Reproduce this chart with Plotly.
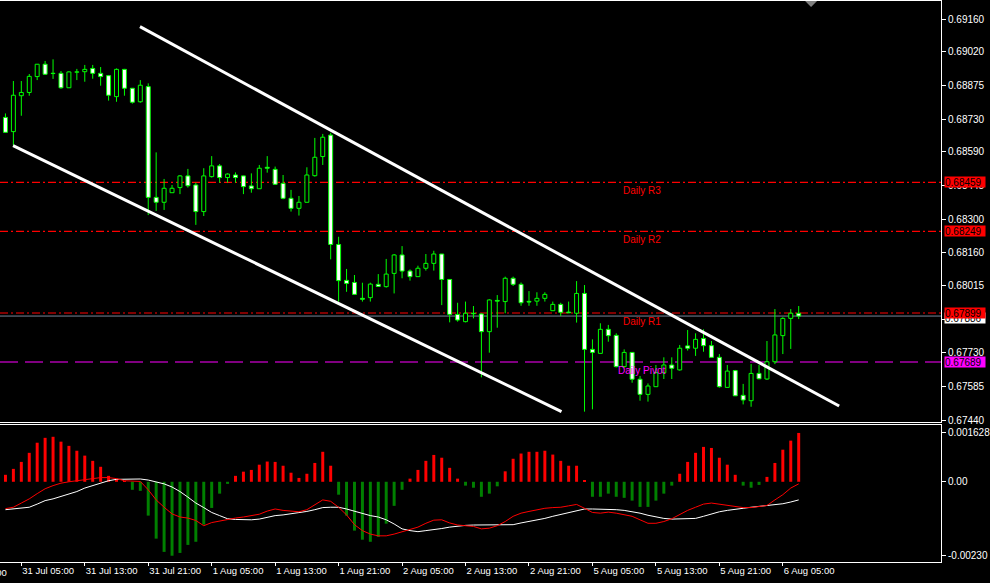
import plotly.graph_objects as go

# ---------------- data (AUDUSD H1) ----------------
open_ = [0.68738, 0.68677, 0.68831, 0.68845, 0.68913, 0.68966, 0.68927, 0.68927, 0.68865, 0.68932,
         0.68934, 0.68948, 0.68927, 0.68917, 0.68827, 0.68944, 0.68863, 0.68805, 0.68870, 0.68395,
         0.68374, 0.68415, 0.68437, 0.68487, 0.68448, 0.68334, 0.68484, 0.68530, 0.68480, 0.68491,
         0.68487, 0.68444, 0.68432, 0.68524, 0.68515, 0.68455, 0.68391, 0.68348, 0.68374, 0.68488,
         0.68570, 0.68662, 0.68193, 0.68039, 0.68030, 0.67962, 0.67965, 0.68022, 0.68012, 0.68069,
         0.68148, 0.68079, 0.68055, 0.68091, 0.68112, 0.68152, 0.68043, 0.67893, 0.67862, 0.67898,
         0.67895, 0.67819, 0.67953, 0.67948, 0.68048, 0.68022, 0.67949, 0.67950, 0.67962, 0.67909,
         0.67936, 0.67903, 0.67898, 0.67983, 0.67743, 0.67726, 0.67829, 0.67803, 0.67669, 0.67730,
         0.67615, 0.67550, 0.67583, 0.67643, 0.67676, 0.67655, 0.67758, 0.67748, 0.67790, 0.67759,
         0.67709, 0.67580, 0.67652, 0.67546, 0.67523, 0.67640, 0.67616, 0.67690, 0.67802, 0.67876,
         0.67898]
high = [0.68755, 0.68894, 0.68894, 0.68924, 0.68967, 0.68980, 0.68987, 0.68937, 0.68936, 0.68946,
        0.68963, 0.68963, 0.68954, 0.68920, 0.68948, 0.68946, 0.68863, 0.68898, 0.68884, 0.68588,
        0.68474, 0.68448, 0.68491, 0.68517, 0.68458, 0.68520, 0.68572, 0.68538, 0.68498, 0.68502,
        0.68488, 0.68498, 0.68534, 0.68572, 0.68527, 0.68491, 0.68427, 0.68401, 0.68524, 0.68650,
        0.68667, 0.68672, 0.68226, 0.68088, 0.68062, 0.68029, 0.68029, 0.68066, 0.68131, 0.68152,
        0.68186, 0.68086, 0.68102, 0.68152, 0.68166, 0.68152, 0.68043, 0.67943, 0.67948, 0.67929,
        0.67898, 0.67958, 0.67976, 0.68055, 0.68055, 0.68030, 0.67993, 0.67988, 0.67988, 0.67948,
        0.67943, 0.67948, 0.68036, 0.68019, 0.67786, 0.67855, 0.67848, 0.67812, 0.67743, 0.67730,
        0.67629, 0.67597, 0.67676, 0.67709, 0.67709, 0.67762, 0.67826, 0.67812, 0.67829, 0.67779,
        0.67723, 0.67676, 0.67655, 0.67595, 0.67680, 0.67676, 0.67779, 0.67916, 0.67881, 0.67916,
        0.67929]
low = [0.68674, 0.68617, 0.68745, 0.68831, 0.68898, 0.68920, 0.68903, 0.68861, 0.68865, 0.68898,
       0.68891, 0.68904, 0.68874, 0.68810, 0.68805, 0.68831, 0.68797, 0.68801, 0.68319, 0.68337,
       0.68341, 0.68415, 0.68409, 0.68437, 0.68277, 0.68315, 0.68480, 0.68458, 0.68458, 0.68458,
       0.68409, 0.68415, 0.68432, 0.68501, 0.68448, 0.68387, 0.68334, 0.68317, 0.68374, 0.68484,
       0.68534, 0.68129, 0.67948, 0.67990, 0.67979, 0.67948, 0.67948, 0.68013, 0.68008, 0.67983,
       0.68048, 0.68038, 0.68055, 0.68081, 0.68081, 0.67933, 0.67859, 0.67862, 0.67859, 0.67876,
       0.67623, 0.67729, 0.67836, 0.67898, 0.68015, 0.67930, 0.67930, 0.67930, 0.67948, 0.67909,
       0.67886, 0.67898, 0.67858, 0.67476, 0.67486, 0.67726, 0.67776, 0.67666, 0.67666, 0.67600,
       0.67523, 0.67519, 0.67583, 0.67616, 0.67616, 0.67652, 0.67738, 0.67715, 0.67733, 0.67709,
       0.67579, 0.67580, 0.67544, 0.67507, 0.67497, 0.67615, 0.67612, 0.67680, 0.67723, 0.67745,
       0.67873]
close = [0.68674, 0.68833, 0.68845, 0.68914, 0.68966, 0.68923, 0.68926, 0.68865, 0.68933, 0.68933,
         0.68944, 0.68927, 0.68913, 0.68833, 0.68944, 0.68863, 0.68803, 0.68876, 0.68395, 0.68374,
         0.68434, 0.68434, 0.68487, 0.68445, 0.68334, 0.68487, 0.68530, 0.68480, 0.68495, 0.68480,
         0.68441, 0.68432, 0.68520, 0.68520, 0.68451, 0.68391, 0.68348, 0.68374, 0.68491, 0.68567,
         0.68653, 0.68193, 0.68038, 0.68026, 0.67979, 0.67958, 0.68023, 0.68013, 0.68066, 0.68148,
         0.68079, 0.68055, 0.68091, 0.68112, 0.68152, 0.68043, 0.67893, 0.67869, 0.67898, 0.67896,
         0.67819, 0.67955, 0.67950, 0.68048, 0.68022, 0.67943, 0.67946, 0.67962, 0.67979, 0.67936,
         0.67902, 0.67900, 0.67983, 0.67743, 0.67730, 0.67829, 0.67802, 0.67669, 0.67730, 0.67615,
         0.67550, 0.67586, 0.67643, 0.67676, 0.67662, 0.67748, 0.67748, 0.67786, 0.67759, 0.67709,
         0.67583, 0.67650, 0.67544, 0.67526, 0.67640, 0.67617, 0.67690, 0.67805, 0.67876, 0.67898,
         0.67886]

# oscillator histogram and its two lines
hist = [2.0e-4, 3.7e-4, 5.7e-4, 8.3e-4, 11.2e-4, 12.6e-4, 12.9e-4, 11.5e-4, 10.3e-4, 8.9e-4,
        7.5e-4, 6.0e-4, 4.3e-4, 1.7e-4, 0.9e-4, 0.2e-4, -2.3e-4, -2.6e-4, -9.7e-4, -16.3e-4,
        -20.1e-4, -21.2e-4, -20.4e-4, -18.1e-4, -17.2e-4, -12.3e-4, -7.5e-4, -3.4e-4, -0.6e-4, 1.7e-4,
        2.9e-4, 3.4e-4, 4.9e-4, 5.8e-4, 5.7e-4, 4.6e-4, 2.6e-4, 1.1e-4, 2.3e-4, 5.4e-4,
        8.6e-4, 4.6e-4, -3.7e-4, -9.7e-4, -14.0e-4, -16.6e-4, -17.2e-4, -15.8e-4, -12.0e-4, -6.9e-4,
        -2.3e-4, 0.9e-4, 3.4e-4, 6.0e-4, 7.7e-4, 6.9e-4, 4.0e-4, 0.9e-4, -1.1e-4, -1.7e-4,
        -4.3e-4, -3.4e-4, -1.3e-4, 3.0e-4, 6.6e-4, 8.1e-4, 8.6e-4, 8.6e-4, 8.9e-4, 7.8e-4,
        6.0e-4, 4.6e-4, 4.6e-4, 0.3e-4, -4.3e-4, -4.3e-4, -3.4e-4, -4.3e-4, -4.6e-4, -5.4e-4,
        -7.2e-4, -7.2e-4, -5.4e-4, -3.4e-4, -1.1e-4, 2.3e-4, 5.7e-4, 8.3e-4, 10.0e-4, 9.7e-4,
        6.9e-4, 4.9e-4, 2.0e-4, -1.1e-4, -1.7e-4, -0.9e-4, 1.4e-4, 5.4e-4, 9.2e-4, 11.8e-4,
        14.0e-4]
line_red = [-7.7e-4, -7.3e-4, -6.1e-4, -4.9e-4, -3.4e-4, -2.0e-4, -1.1e-4, -0.4e-4, 0.0, 0.3e-4,
            0.6e-4, 1.1e-4, 1.2e-4, 1.2e-4, 0.9e-4, 0.3e-4, 0.3e-4, 0.1e-4, -2.3e-4, -5.2e-4,
            -7.3e-4, -9.2e-4, -10.1e-4, -10.4e-4, -11.1e-4, -12.6e-4, -11.7e-4, -11.2e-4, -10.8e-4, -10.4e-4,
            -10.1e-4, -9.8e-4, -9.3e-4, -8.4e-4, -7.8e-4, -8.2e-4, -8.5e-4, -8.6e-4, -8.0e-4, -6.7e-4,
            -5.2e-4, -5.6e-4, -7.3e-4, -9.5e-4, -12.3e-4, -14.0e-4, -15.0e-4, -15.5e-4, -15.5e-4, -15.0e-4,
            -14.4e-4, -13.8e-4, -13.0e-4, -11.9e-4, -11.0e-4, -10.9e-4, -11.8e-4, -12.4e-4, -12.6e-4, -12.8e-4,
            -13.5e-4, -13.3e-4, -12.6e-4, -11.4e-4, -9.9e-4, -9.0e-4, -8.5e-4, -8.0e-4, -7.6e-4, -7.4e-4,
            -7.3e-4, -6.9e-4, -6.5e-4, -7.6e-4, -8.8e-4, -9.0e-4, -8.7e-4, -9.0e-4, -9.5e-4, -9.9e-4,
            -10.9e-4, -11.9e-4, -11.9e-4, -11.4e-4, -10.6e-4, -9.3e-4, -8.2e-4, -7.3e-4, -6.4e-4, -6.1e-4,
            -6.4e-4, -6.8e-4, -7.1e-4, -7.4e-4, -7.4e-4, -7.1e-4, -6.8e-4, -5.2e-4, -3.7e-4, -1.8e-4,
            -0.6e-4]
line_white = [-8.0e-4, -7.8e-4, -7.7e-4, -7.3e-4, -6.4e-4, -5.4e-4, -4.9e-4, -4.2e-4, -3.4e-4, -2.8e-4,
              -1.8e-4, -1.1e-4, -0.4e-4, 0.3e-4, 0.7e-4, 0.8e-4, 0.8e-4, 0.8e-4, 0.5e-4, 0.0,
              -0.6e-4, -1.5e-4, -2.8e-4, -4.4e-4, -6.1e-4, -7.4e-4, -8.8e-4, -9.7e-4, -10.6e-4, -10.8e-4,
              -10.9e-4, -10.9e-4, -10.7e-4, -10.2e-4, -9.7e-4, -9.5e-4, -9.2e-4, -9.0e-4, -8.5e-4, -8.0e-4,
              -7.4e-4, -7.3e-4, -7.3e-4, -7.8e-4, -8.5e-4, -9.2e-4, -9.7e-4, -10.1e-4, -10.9e-4, -12.1e-4,
              -13.5e-4, -14.0e-4, -14.3e-4, -14.0e-4, -13.8e-4, -13.4e-4, -13.0e-4, -12.7e-4, -12.5e-4, -12.4e-4,
              -12.4e-4, -12.4e-4, -12.4e-4, -12.4e-4, -12.3e-4, -11.8e-4, -11.4e-4, -11.1e-4, -10.5e-4, -9.9e-4,
              -9.4e-4, -8.8e-4, -8.2e-4, -7.8e-4, -7.8e-4, -7.8e-4, -7.8e-4, -8.0e-4, -8.2e-4, -8.5e-4,
              -9.0e-4, -9.6e-4, -10.1e-4, -10.5e-4, -10.7e-4, -10.7e-4, -10.7e-4, -10.5e-4, -9.9e-4, -9.2e-4,
              -8.6e-4, -8.2e-4, -7.8e-4, -7.6e-4, -7.3e-4, -7.1e-4, -6.9e-4, -6.6e-4, -6.3e-4, -5.8e-4,
              -5.2e-4]

# time axis labels (bar index -> label)
time_tick_idx = [2, 10, 18, 26, 34, 42, 50, 58, 66, 74, 82, 90, 98]
time_tick_labels = ["31 Jul 05:00", "31 Jul 13:00", "31 Jul 21:00", "1 Aug 05:00", "1 Aug 13:00",
                    "1 Aug 21:00", "2 Aug 05:00", "2 Aug 13:00", "2 Aug 21:00", "5 Aug 05:00",
                    "5 Aug 13:00", "5 Aug 21:00", "6 Aug 05:00"]
first_hidden_label = "30 Jul 21:00"

price_ticks = [0.69160, 0.69020, 0.68875, 0.68730, 0.68590, 0.68445, 0.68300,
               0.68160, 0.68015, 0.67870, 0.67730, 0.67585, 0.67440]
osc_tick_text = ["0.001628", "0.00", "-0.00230"]

pivot_names = ["Daily R3", "Daily R2", "Daily R1", "Daily Pivot"]
pivot_values = [0.68459, 0.68249, 0.67899, 0.67689]
bid_price = 0.67886

# trend lines: (bar index, price) start and end
trend_up = [(16.96, 0.69127), (105.1, 0.67500)]
trend_dn = [(0.96, 0.68617), (70.1, 0.67476)]

# ---------------- styles ----------------
BG = "#000000"
CANDLE_LINE = "#00FF00"
RED = "#FF0000"
MAGENTA = "#FF00FF"
HIST_UP = "#FF0000"
HIST_DN = "#008000"
FONT = "Liberation Sans"

n = len(close)
idx = list(range(n))

fig = go.Figure()

# candle bodies
body_base = [min(o, c) for o, c in zip(open_, close)]
body_h = [max(abs(c - o), 0.000012) for o, c in zip(open_, close)]
body_col = ["#FFFFFF" if c < o else "#000000" for o, c in zip(open_, close)]
fig.add_trace(go.Bar(x=idx, y=body_h, base=body_base, width=0.5,
                     marker=dict(color=body_col, line=dict(color=CANDLE_LINE, width=1)),
                     xaxis="x", yaxis="y", hoverinfo="skip"))

# wicks (outside of bodies)
wx, wy = [], []
for i in idx:
    top = max(open_[i], close[i])
    bot = min(open_[i], close[i])
    if high[i] > top:
        wx += [i, i, None]
        wy += [high[i], top, None]
    if low[i] < bot:
        wx += [i, i, None]
        wy += [bot, low[i], None]
fig.add_trace(go.Scatter(x=wx, y=wy, mode="lines", line=dict(color=CANDLE_LINE, width=1),
                         xaxis="x", yaxis="y", hoverinfo="skip"))

# oscillator
fig.add_trace(go.Bar(x=idx, y=hist, width=0.375,
                     marker=dict(color=[HIST_UP if v >= 0 else HIST_DN for v in hist], line=dict(width=0)),
                     xaxis="x2", yaxis="y2", hoverinfo="skip"))
fig.add_trace(go.Scatter(x=idx, y=line_white, mode="lines", line=dict(color="#FFFFFF", width=1),
                         xaxis="x2", yaxis="y2", hoverinfo="skip"))
fig.add_trace(go.Scatter(x=idx, y=line_red, mode="lines", line=dict(color=RED, width=1),
                         xaxis="x2", yaxis="y2", hoverinfo="skip"))

shapes = []
# pivot level lines
for name, v in zip(pivot_names, pivot_values):
    col = MAGENTA if "Pivot" in name else RED
    dash = "18px,7px" if "Pivot" in name else "8px,3px,2px,3px"
    shapes.append(dict(type="line", xref="paper", yref="y", x0=0, x1=1, y0=v, y1=v,
                       line=dict(color=col, width=1.2, dash=dash), layer="below"))
# bid line
shapes.append(dict(type="line", xref="paper", yref="y", x0=0, x1=1, y0=bid_price, y1=bid_price,
                   line=dict(color="#778899", width=1), layer="below"))
# trend lines
for (x0, y0), (x1, y1) in (trend_up, trend_dn):
    shapes.append(dict(type="line", xref="x", yref="y", x0=x0, y0=y0, x1=x1, y1=y1,
                       line=dict(color="#FFFFFF", width=3)))
# chart-shift marker at top
shapes.append(dict(type="path", xref="paper", yref="paper",
                   path="M 0.8556,1 L 0.8683,1 L 0.8619,0.9893 Z",
                   fillcolor="#808080", line=dict(width=0)))

annotations = []
label_x = {"Daily R3": 77.65, "Daily R2": 77.65, "Daily R1": 77.65, "Daily Pivot": 76.95}
for name, v in zip(pivot_names, pivot_values):
    col = MAGENTA if "Pivot" in name else RED
    annotations.append(dict(x=label_x[name], y=v, xref="x", yref="y", text=name, showarrow=False,
                            xanchor="left", yanchor="top", yshift=-1,
                            font=dict(family=FONT, size=10, color=col)))
# bid price tag (under the R1 tag)
annotations.append(dict(x=1, y=bid_price, xref="paper", yref="y", text=f"{bid_price:.5f}",
                        showarrow=False, xanchor="left", xshift=3, yshift=-2, bgcolor="#FFFFFF",
                        width=40, height=10, align="left",
                        font=dict(family=FONT, size=10, color="#000000"), borderpad=0))
for name, v in zip(pivot_names, pivot_values):
    col = MAGENTA if "Pivot" in name else RED
    annotations.append(dict(x=1, y=v, xref="paper", yref="y", text=f"{v:.5f}",
                            showarrow=False, xanchor="left", xshift=3, bgcolor=col,
                            width=40, height=10, align="left",
                            font=dict(family=FONT, size=10, color="#000000"), borderpad=0))
# clipped first time label at the left edge
annotations.append(dict(x=-47 / 949, y=0, xref="paper", yref="paper", text=first_hidden_label,
                        showarrow=False, xanchor="left", yanchor="top", yshift=-3,
                        font=dict(family=FONT, size=9.5, color="#FFFFFF")))

XR = [-0.6875, 117.94]
axis_font = dict(family=FONT, size=10, color="#FFFFFF")

fig.update_layout(
    width=990, height=583,
    margin=dict(l=0, r=41, t=1, b=21),
    paper_bgcolor=BG, plot_bgcolor=BG,
    showlegend=False, barmode="overlay", hovermode=False,
    shapes=shapes, annotations=annotations,
    xaxis=dict(domain=[0, 1], range=XR, anchor="y", showticklabels=False, ticks="",
               showgrid=False, zeroline=False, showline=True, mirror=True,
               linecolor="#FFFFFF", linewidth=1),
    xaxis2=dict(domain=[0, 1], range=XR, anchor="y2", tickvals=time_tick_idx,
                ticktext=time_tick_labels, ticks="outside", ticklen=3, tickcolor="#FFFFFF",
                ticklabelposition="outside right", tickfont=dict(family=FONT, size=9.5, color="#FFFFFF"),
                showgrid=False, zeroline=False, showline=True, mirror=True,
                linecolor="#FFFFFF", linewidth=1),
    yaxis=dict(domain=[0.249554, 1], range=[0.674316, 0.692372], anchor="x", side="right",
               tickvals=price_ticks, ticktext=[f"{v:.5f}" for v in price_ticks],
               ticks="outside", ticklen=4, tickcolor="#FFFFFF", tickfont=axis_font,
               showgrid=False, zeroline=False, showline=True, linecolor="#FFFFFF", linewidth=1),
    yaxis2=dict(domain=[0, 0.244207], range=[-0.0023, 0.001628], anchor="x2", side="right",
                tickvals=[0.0014, 0.0, -0.0021], ticktext=osc_tick_text,
                ticks="outside", ticklen=4, tickcolor="#FFFFFF", tickfont=axis_font,
                showgrid=False, zeroline=False, showline=True, linecolor="#FFFFFF", linewidth=1),
)

fig.write_html("out.html", config={"displayModeBar": False},
               post_script="document.body.style.margin='0px';document.body.style.overflow='hidden';")
